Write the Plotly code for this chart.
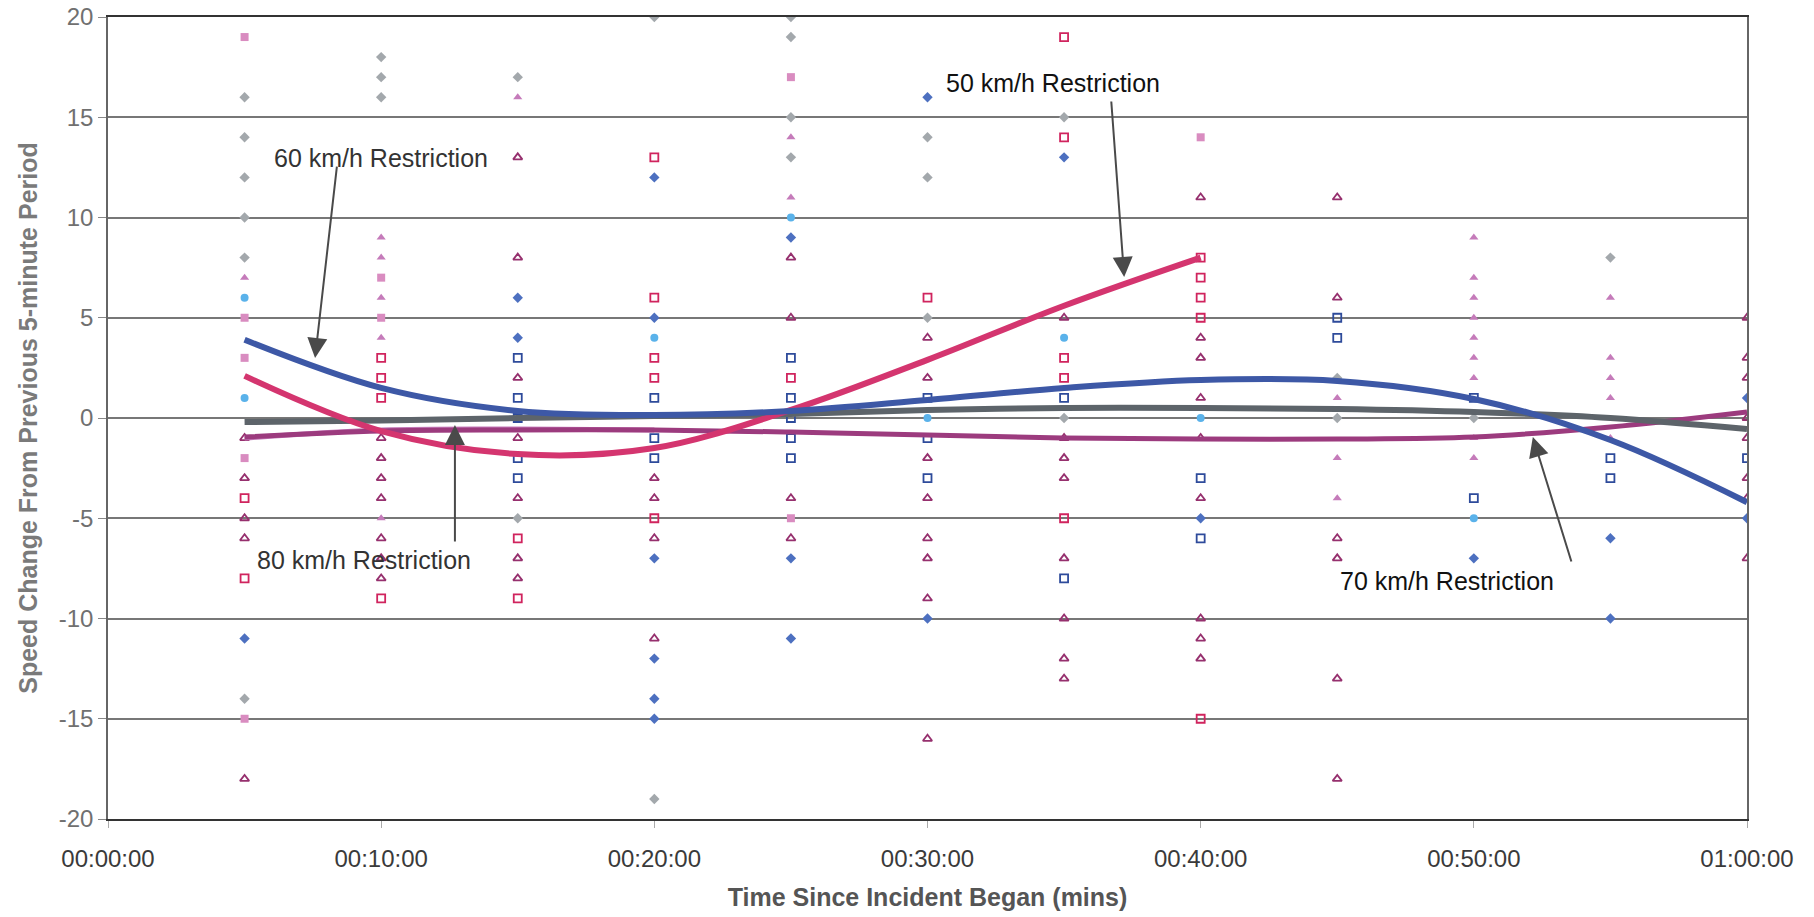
import plotly.graph_objects as go

# ---------------- data ----------------
TICK_MINUTES = [0, 10, 20, 30, 40, 50, 60]
TICK_LABELS = ["00:00:00", "00:10:00", "00:20:00", "00:30:00", "00:40:00", "00:50:00", "01:00:00"]
Y_TICKS = [20, 15, 10, 5, 0, -5, -10, -15, -20]

gray_diamond = {5: [16, 14, 12, 10, 8, -14], 10: [18, 17, 16], 15: [17, -5], 20: [20, -19],
                25: [20, 19, 15, 13], 30: [14, 12, 5], 35: [15, 0], 45: [0, 2], 50: [0], 55: [8]}
pink_square = {5: [19, 5, 3, -2, -15], 10: [7, 5], 25: [17, -5], 40: [14]}
orchid_triangle = {5: [7], 10: [9, 8, 6, 4, -5], 15: [16], 25: [14, 11], 45: [1, -2, -4],
                   50: [9, 7, 6, 5, 4, 3, 2, -1, -2], 55: [6, 3, 2, 1, -1]}
lightblue_circle = {5: [6, 1], 20: [4], 25: [10], 30: [0], 35: [4], 40: [0], 50: [-5]}
blue_diamond = {5: [-11], 15: [6, 4], 20: [12, 5, -7, -12, -14, -15], 25: [9, -7, -11],
                30: [16, -10], 35: [13], 40: [-5], 50: [-7], 55: [-6, -10], 60: [1, -5]}
navy_open = {15: [3, 1, 0, -2, -3], 20: [1, -1, -2], 25: [3, 1, 0, -1, -2], 30: [1, -1, -3],
             35: [1, -8], 40: [-3, -6], 45: [5, 4], 50: [1, -4], 55: [-2, -3], 60: [-2]}
crimson_open_square = {5: [-4, -8], 10: [3, 2, 1, -9], 15: [-6, -9], 20: [13, 6, 3, 2, -5],
                       25: [2], 30: [6], 35: [19, 14, 3, 2, -5], 40: [8, 7, 6, 5, -15]}
magenta_open_triangle = {5: [-1, -3, -5, -6, -18], 10: [-1, -2, -3, -4, -6, -7, -8],
                         15: [13, 8, 2, -1, -4, -7, -8], 20: [-3, -4, -6, -11], 25: [8, 5, -4, -6],
                         30: [4, 2, -2, -4, -6, -7, -9, -16], 35: [5, -1, -2, -3, -7, -10, -12, -13],
                         40: [11, 4, 3, 1, -1, -4, -10, -11, -12], 45: [11, 6, -6, -7, -13, -18],
                         60: [5, 3, 2, 0, -1, -3, -4, -7]}

# trend lines (read at each 5 minutes)
trend_x = [5, 10, 15, 20, 25, 30, 35, 40, 45, 50, 55, 60]
trend_60 = [3.9, 1.5, 0.35, 0.15, 0.35, 0.9, 1.5, 1.9, 1.85, 0.95, -1.1, -4.2]
trend_50_x = [5, 10, 15, 20, 25, 30, 35, 40]
trend_50 = [2.1, -0.65, -1.8, -1.5, 0.4, 2.9, 5.6, 8.0]
trend_80 = [-0.2, -0.13, 0.0, 0.1, 0.2, 0.4, 0.5, 0.5, 0.45, 0.3, 0.0, -0.55]
trend_70 = [-0.95, -0.65, -0.6, -0.6, -0.7, -0.85, -1.0, -1.05, -1.05, -0.95, -0.45, 0.3]
trend_orchid_x = [5, 10, 15, 20]
trend_orchid = [-1.0, -0.6, -0.55, -0.6]


def expand(d):
    xs, ys = [], []
    for k, vals in d.items():
        for v in vals:
            xs.append(k)
            ys.append(v)
    return xs, ys


fig = go.Figure()

scatter_specs = [
    (gray_diamond, "diamond", "#a3a8ac", None),
    (pink_square, "square", "#d98cc0", None),
    (orchid_triangle, "triangle-up", "#c57bba", None),
    (lightblue_circle, "circle", "#5ab2ea", None),
    (blue_diamond, "diamond", "#4d70c0", None),
    (navy_open, "square-open", "#2e4b9b", 1.8),
    (crimson_open_square, "square-open", "#d0245e", 1.8),
    (magenta_open_triangle, "triangle-up-open", "#96306e", 1.8),
]
for d, sym, col, lw in scatter_specs:
    xs, ys = expand(d)
    mk = dict(symbol=sym, color=col, size=8)
    if lw:
        mk["line"] = dict(color=col, width=lw)
    fig.add_trace(go.Scatter(x=xs, y=ys, mode="markers", marker=mk,
                             showlegend=False, hoverinfo="x+y"))

line_specs = [
    (trend_orchid_x, trend_orchid, "#c47ab8", 5),
    (trend_x, trend_70, "#9c3b7e", 5),
    (trend_x, trend_80, "#5d646a", 6),
    (trend_50_x, trend_50, "#d4356f", 6),
    (trend_x, trend_60, "#3d58a6", 6),
]
for xs, ys, col, w in line_specs:
    fig.add_trace(go.Scatter(x=xs, y=ys, mode="lines",
                             line=dict(color=col, width=w, shape="spline", smoothing=1.0),
                             showlegend=False, hoverinfo="skip"))

FONT = "Liberation Sans, Arial, sans-serif"

labels = [
    ("60 km/h Restriction", 9.99, 12.97, "#333333"),
    ("50 km/h Restriction", 34.6, 16.7, "#111111"),
    ("80 km/h Restriction", 9.37, -7.08, "#333333"),
    ("70 km/h Restriction", 49.0, -8.13, "#111111"),
]
annotations = []
for t, x, y, c in labels:
    annotations.append(dict(text=t, x=x, y=y, xref="x", yref="y", showarrow=False,
                            xanchor="center", yanchor="middle",
                            font=dict(family=FONT, size=25, color=c)))
arrows = [(7.58, 2.99, 22, -193), (37.2, 7.03, -13, -177), (12.7, -0.35, 0, 118), (52.16, -0.95, 39, 126)]
for x, y, ax, ay in arrows:
    annotations.append(dict(text="", x=x, y=y, xref="x", yref="y", ax=ax, ay=ay,
                            showarrow=True, arrowhead=2, arrowsize=2, arrowwidth=2,
                            arrowcolor="#4a4a4a", standoff=0))

fig.update_layout(
    width=1814, height=917,
    margin=dict(l=108, r=67, t=17, b=98),
    paper_bgcolor="white", plot_bgcolor="white",
    font=dict(family=FONT),
    annotations=annotations,
    showlegend=False,
)
fig.update_xaxes(
    range=[0, 60], tickvals=TICK_MINUTES, ticktext=TICK_LABELS,
    showgrid=False, zeroline=False, automargin=False,
    showline=True, linecolor="#333333", linewidth=2, mirror=True,
    ticks="outside", ticklen=7, tickcolor="#aaaaaa", ticklabelstandoff=10,
    tickfont=dict(family=FONT, size=24, color="#3a3a3a"),
    title=dict(text="<b>Time Since Incident Began (mins)</b>", standoff=18,
               font=dict(family=FONT, size=25, color="#555555")),
)
fig.update_yaxes(
    range=[-20, 20], tickvals=Y_TICKS, ticktext=[str(v) for v in Y_TICKS],
    showgrid=True, gridcolor="#777777", gridwidth=1.5, zeroline=False, automargin=False,
    showline=True, linecolor="#666666", linewidth=1.5, mirror=True,
    ticks="outside", ticklen=8, tickcolor="#888888",
    tickfont=dict(family=FONT, size=24, color="#707070"),
    title=dict(text="<b>Speed Change From Previous 5-minute Period</b>", standoff=14,
               font=dict(family=FONT, size=25, color="#7a7a7a")),
)

fig.write_html("out.html")
